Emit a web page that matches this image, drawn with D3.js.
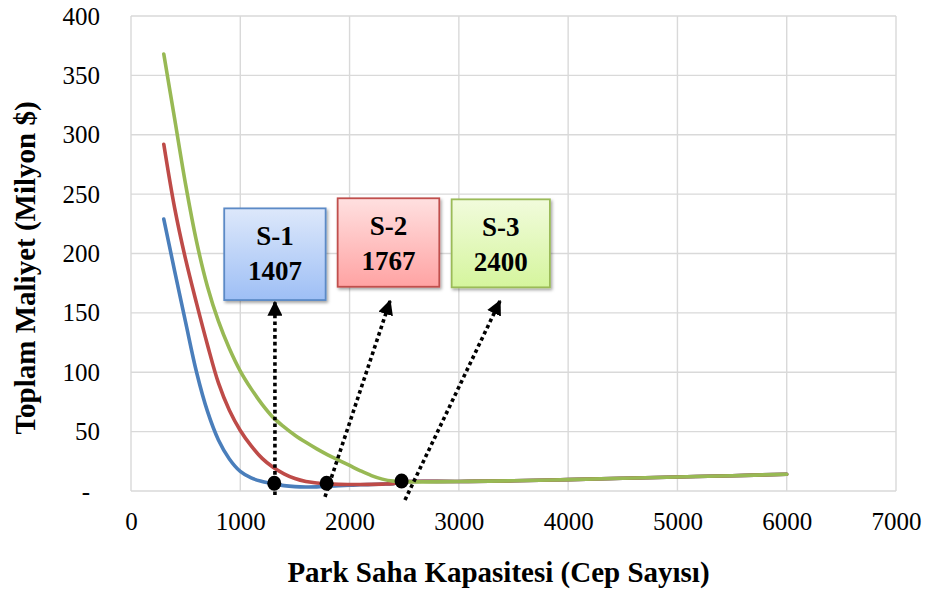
<!DOCTYPE html>
<html>
<head>
<meta charset="utf-8">
<script src="https://cdn.jsdelivr.net/npm/d3@7"></script>
<style>
  body { margin: 0; background: #fff; }
  text { font-family: "Liberation Serif", "Times New Roman", serif; }
</style>
</head>
<body>
<div id="chart"></div>
<script>
// capacities (x values) shared by all three series
const capacity = [300, 400, 500, 600, 700, 800, 900, 1000, 1100, 1200, 1300, 1400, 1500, 1600, 1700, 1800, 1900, 2000, 2100, 2200, 2300, 2400, 2500, 3000, 3500, 4000, 4500, 5000, 5500, 6000];

// total cost (million $) for each scenario
const costS1 = [229, 185, 142, 100, 67, 43, 27, 16.5, 11, 8, 6, 4.5, 3.7, 3.4, 3.5, 4, 4.4, 4.8, 5.2, 5.5, 5.8, 6.2, 7.8, 8, 8.6, 9.6, 10.7, 11.8, 12.9, 14.1];
const costS2 = [292, 238, 195, 158, 123, 91, 68, 51, 38, 27.5, 20, 14.5, 10.5, 8, 6.8, 6, 5.6, 5.5, 5.5, 5.6, 5.8, 6.2, 7.8, 8, 8.6, 9.6, 10.7, 11.8, 12.9, 14.1];
const costS3 = [368, 313, 258, 210, 172, 143, 120, 101, 86, 73, 62, 54, 47, 41, 35.5, 30.5, 26, 21.5, 17, 13, 10, 8.3, 7.8, 8, 8.6, 9.6, 10.7, 11.8, 12.9, 14.1];

const seriesNames = ["S-1", "S-2", "S-3"];
const optimum = [1407, 1767, 2400];

// where the optimum markers sit on the curves
const markerX = [1311, 1790, 2476];
const markerY = [6.5, 6.5, 8.4];

// callout boxes and arrows, in data units
const boxX0 = [853, 1891, 2934];
const boxX1 = [1781, 2821, 3833];
const boxYTop = [238, 246.5, 245.6];
const boxYBot = [160.8, 172, 171.5];
const arrowFrom = [[1317, -3.4], [1775, -5], [2507, -7.6]];
const arrowTo = [[1317, 159], [2370, 160], [3376, 160]];

const xTicks = [0, 1000, 2000, 3000, 4000, 5000, 6000, 7000];
const yTicks = [0, 50, 100, 150, 200, 250, 300, 350, 400];

const colors = ["#4a7ebb", "#be4b48", "#98b954"];
const boxTop = ["#dde8fb", "#ffe0e0", "#f1fbdc"];
const boxBottom = ["#9ebff5", "#ffa3a3", "#d5f59d"];
const boxStroke = ["#5b8ac6", "#c0504d", "#9bbb59"];

const W = 926, H = 590;
const margin = { top: 16, right: 30, bottom: 99, left: 131 };
const width = W - margin.left - margin.right;
const height = H - margin.top - margin.bottom;

const svg = d3.select("#chart").append("svg")
  .attr("width", W)
  .attr("height", H);

const defs = svg.append("defs");
seriesNames.forEach((n, i) => {
  const g = defs.append("linearGradient")
    .attr("id", "grad" + i)
    .attr("x1", 0).attr("y1", 0).attr("x2", 0).attr("y2", 1);
  g.append("stop").attr("offset", "0%").attr("stop-color", boxTop[i]);
  g.append("stop").attr("offset", "100%").attr("stop-color", boxBottom[i]);
});
defs.append("filter").attr("id", "shadow")
  .attr("x", "-10%").attr("y", "-10%").attr("width", "130%").attr("height", "130%")
  .append("feDropShadow")
  .attr("dx", 1.5).attr("dy", 2).attr("stdDeviation", 1.5)
  .attr("flood-color", "#000").attr("flood-opacity", 0.35);

const marker = defs.append("marker")
  .attr("id", "arrow")
  .attr("viewBox", "0 0 10 10")
  .attr("refX", 9).attr("refY", 5)
  .attr("markerWidth", 4.2).attr("markerHeight", 4.2)
  .attr("markerUnits", "strokeWidth")
  .attr("orient", "auto");
marker.append("path").attr("d", "M0,0L10,5L0,10z").attr("fill", "#000");

const g = svg.append("g")
  .attr("transform", "translate(" + margin.left + "," + margin.top + ")");

const x = d3.scaleLinear().domain([0, 7000]).range([0, width]);
const y = d3.scaleLinear().domain([0, 400]).range([height, 0]);

// gridlines
g.append("g").selectAll("line").data(yTicks).enter().append("line")
  .attr("x1", 0).attr("x2", width)
  .attr("y1", d => y(d)).attr("y2", d => y(d))
  .attr("stroke", "#d9d9d9").attr("stroke-width", 1.4);
g.append("g").selectAll("line").data(xTicks).enter().append("line")
  .attr("x1", d => x(d)).attr("x2", d => x(d))
  .attr("y1", 0).attr("y2", height)
  .attr("stroke", "#d9d9d9").attr("stroke-width", 1.4);

// axes
const xAxis = g.append("g")
  .attr("transform", "translate(0," + height + ")")
  .call(d3.axisBottom(x).tickValues(xTicks).tickSize(0).tickPadding(21).tickFormat(d3.format("d")));
const yAxis = g.append("g")
  .call(d3.axisLeft(y).tickValues(yTicks).tickSize(0).tickPadding(31).tickFormat(d => d === 0 ? "-" : d));
[xAxis, yAxis].forEach(a => {
  a.select(".domain").remove();
  a.selectAll("text")
    .attr("font-size", 25)
    .attr("fill", "#000");
});
yAxis.selectAll("text").filter(d => d === 0).attr("dx", -10);

// series
const line = d3.line()
  .x(d => x(d[0]))
  .y(d => y(d[1]))
  .curve(d3.curveCatmullRom.alpha(0.5));
[costS1, costS2, costS3].forEach((s, i) => {
  g.append("path")
    .datum(capacity.map((c, k) => [c, s[k]]))
    .attr("d", line)
    .attr("fill", "none")
    .attr("stroke", colors[i])
    .attr("stroke-width", 3.6)
    .attr("stroke-linecap", "round");
});

// dotted arrows
arrowFrom.forEach((p, i) => {
  g.append("line")
    .attr("x1", x(p[0])).attr("y1", y(p[1]))
    .attr("x2", x(arrowTo[i][0])).attr("y2", y(arrowTo[i][1]))
    .attr("stroke", "#000")
    .attr("stroke-width", 3.6)
    .attr("stroke-dasharray", "3.6,3.2")
    .attr("marker-end", "url(#arrow)");
});

// optimum markers
g.selectAll(".dot").data(markerX).enter().append("ellipse")
  .attr("cx", d => x(d))
  .attr("cy", (d, i) => y(markerY[i]))
  .attr("rx", 7).attr("ry", 7.5)
  .attr("fill", "#000");

// callout boxes
seriesNames.forEach((n, i) => {
  const bx = x(boxX0[i]), by = y(boxYTop[i]);
  const bw = x(boxX1[i]) - bx, bh = y(boxYBot[i]) - by;
  const b = g.append("g");
  b.append("rect")
    .attr("x", bx).attr("y", by)
    .attr("width", bw).attr("height", bh)
    .attr("fill", "url(#grad" + i + ")")
    .attr("stroke", boxStroke[i])
    .attr("stroke-width", 1.8)
    .attr("filter", "url(#shadow)");
  b.append("text")
    .attr("x", bx + bw / 2).attr("y", by + 37)
    .attr("text-anchor", "middle")
    .attr("font-size", 27).attr("font-weight", "bold")
    .text(n);
  b.append("text")
    .attr("x", bx + bw / 2).attr("y", by + 72)
    .attr("text-anchor", "middle")
    .attr("font-size", 27).attr("font-weight", "bold")
    .text(optimum[i]);
});

// axis titles
svg.append("text")
  .attr("x", margin.left + width / 2 - 15)
  .attr("y", 582)
  .attr("text-anchor", "middle")
  .attr("font-size", 29).attr("font-weight", "bold")
  .text("Park Saha Kapasitesi (Cep Sayısı)");
svg.append("text")
  .attr("transform", "translate(35,268) rotate(-90)")
  .attr("text-anchor", "middle")
  .attr("font-size", 29).attr("font-weight", "bold")
  .text("Toplam Maliyet (Milyon $)");
</script>
</body>
</html>
